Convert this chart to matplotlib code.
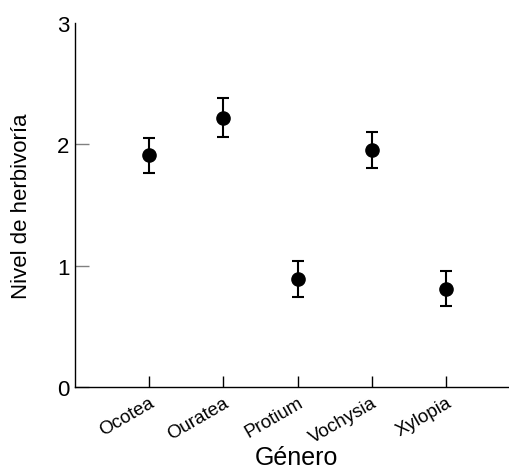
import matplotlib
matplotlib.use("Agg")
import matplotlib.pyplot as plt

generos = ["Ocotea", "Ouratea", "Protium", "Vochysia", "Xylopia"]
medias = [1.91, 2.22, 0.89, 1.955, 0.81]
errores = [0.145, 0.16, 0.145, 0.147, 0.145]
yticks = [0, 1, 2, 3]

plt.rcParams['font.family'] = ['Liberation Sans', 'DejaVu Sans']

fig = plt.figure(figsize=(5.09, 4.77), dpi=100)
ax = fig.add_axes([0.1473, 0.1866, 0.8527, 0.763])

x = list(range(1, len(generos) + 1))
ax.errorbar(x, medias, yerr=errores, fmt='o', color='black', ms=9.5,
            elinewidth=1.5, capsize=4.3, capthick=1.5)

ax.set_xlim(0, 5.85)
ax.set_ylim(0, 3)
ax.set_xticks(x)
ax.set_xticklabels(generos, rotation=30, ha='right', rotation_mode='anchor', fontsize=13.5)
ax.set_yticks(yticks)
ax.set_yticklabels([str(v) for v in yticks], fontsize=16)
ax.tick_params(axis='x', direction='in', length=8, width=1, colors='black', pad=5)
ax.tick_params(axis='y', direction='in', length=10, width=1, color='#808080',
               labelcolor='black', pad=4)
ax.yaxis.get_major_ticks()[-1].tick1line.set_visible(False)
for s in ['top', 'right']:
    ax.spines[s].set_visible(False)
for s in ['left', 'bottom']:
    ax.spines[s].set_linewidth(1)

ax.set_xlabel("Género", fontsize=18)
ax.set_ylabel("Nivel de herbivoría", fontsize=16)
ax.xaxis.set_label_coords(0.511, -0.16)
ax.yaxis.set_label_coords(-0.098, 0.5)

fig.savefig("out.png", dpi=100)
